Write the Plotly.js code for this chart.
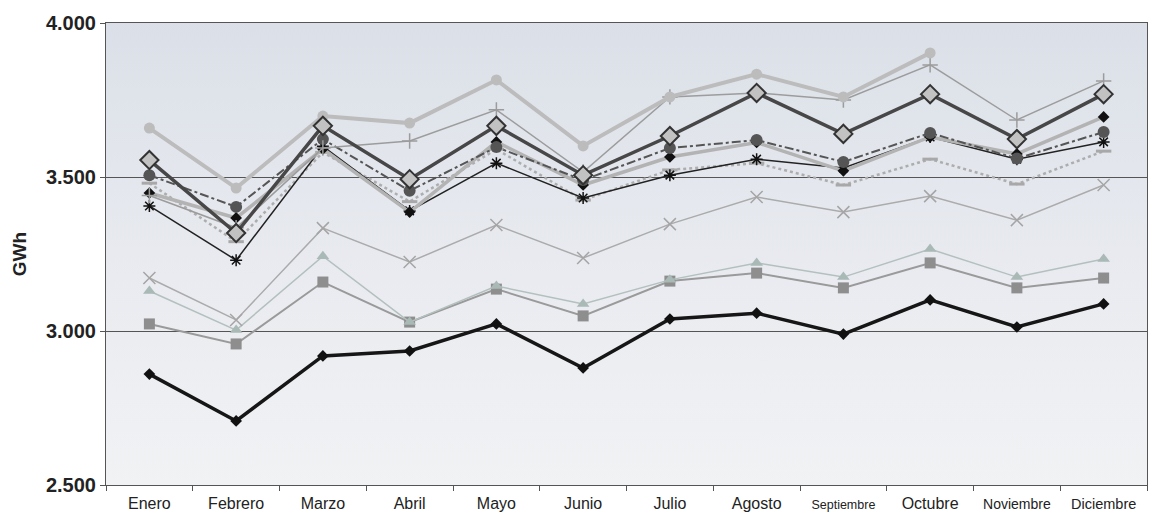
<!DOCTYPE html>
<html>
<head>
<meta charset="utf-8">
<script src="https://cdn.plot.ly/plotly-3.0.1.min.js"></script>
<style>
html,body{margin:0;padding:0;background:#fff;}
#chart{width:1152px;height:516px;}
</style>
</head>
<body>
<div id="chart"></div>
<script>
// Categories (months)
const months = ["Enero","Febrero","Marzo","Abril","Mayo","Junio","Julio","Agosto","Septiembre","Octubre","Noviembre","Diciembre"];

// Series values (GWh)
const serieA = [3659, 3464, 3698, 3675, 3815, 3601, 3760, 3834, 3760, 3903, null, null];
const serieB = [3440, 3335, 3594, 3617, 3718, 3516, 3760, 3773, 3750, 3864, 3685, 3812];
const serieC = [3555, 3318, 3666, 3493, 3666, 3506, 3633, 3773, 3640, 3769, 3623, 3769];
const serieD = [3506, 3403, 3623, 3455, 3597, 3490, 3594, 3620, 3549, 3643, 3560, 3646];
const serieE = [3448, 3367, 3591, 3386, 3614, 3474, 3565, 3612, 3520, 3630, 3575, 3695];
const serieF = [3406, 3230, 3600, 3390, 3545, 3432, 3506, 3558, 3529, 3630, 3558, 3614];
const serieG = [3480, 3290, 3580, 3420, 3590, 3425, 3523, 3545, 3474, 3558, 3477, 3584];
const serieH = [3172, 3036, 3334, 3224, 3344, 3237, 3347, 3435, 3386, 3438, 3360, 3474];
const serieI = [3130, 3003, 3243, 3029, 3146, 3088, 3166, 3221, 3175, 3266, 3175, 3234];
const serieJ = [3023, 2958, 3159, 3029, 3136, 3049, 3162, 3188, 3140, 3221, 3140, 3172];
const serieK = [2860, 2708, 2919, 2935, 3023, 2880, 3039, 3058, 2990, 3101, 3013, 3088];

// Y tick values
const yTicks = [2500, 3000, 3500, 4000];
const yTickLabels = ["2.500", "3.000", "3.500", "4.000"];

function tr(name, y, line, marker) {
  return {type: "scatter", mode: "lines+markers", name: name, x: months, y: y,
          line: line, marker: marker, connectgaps: false, hoverinfo: "x+y"};
}

const traces = [
  tr("Serie K", serieK, {color: "#161616", width: 3.5}, {symbol: "diamond", size: 9, color: "#111"}),
  tr("Serie J", serieJ, {color: "#9a9a9a", width: 2}, {symbol: "square", size: 11, color: "#8e8e8e"}),
  tr("Serie I", serieI, {color: "#b3c0bd", width: 1.5}, {symbol: "triangle-up", size: 11, color: "#a9b9b5"}),
  tr("Serie H", serieH, {color: "#ababab", width: 1.5}, {symbol: "x-thin-open", size: 12, color: "#a5a5a5", line: {width: 1.5, color: "#a5a5a5"}}),
  tr("Serie G", serieG, {color: "#adadad", width: 2.5, dash: "dot"}, {symbol: "line-ew-open", size: 11, color: "#a8a8a8", line: {width: 3, color: "#a8a8a8"}}),
  tr("Serie F", serieF, {color: "#222", width: 1.5}, {symbol: "asterisk-open", size: 10, color: "#111", line: {width: 1.5, color: "#111"}}),
  tr("Serie E", serieE, {color: "#b3b3b3", width: 3.5}, {symbol: "diamond", size: 9, color: "#111"}),
  tr("Serie D", serieD, {color: "#555", width: 2, dash: "dashdot"}, {symbol: "circle", size: 12, color: "#555"}),
  tr("Serie B", serieB, {color: "#9c9c9c", width: 1.5}, {symbol: "cross-thin-open", size: 11, color: "#9c9c9c", line: {width: 1.5, color: "#9c9c9c"}}),
  tr("Serie A", serieA, {color: "#bcbcbc", width: 4}, {symbol: "circle", size: 11, color: "#bcbcbc"}),
  tr("Serie C", serieC, {color: "#474747", width: 3.5}, {symbol: "diamond", size: 14, color: "#c2c2c2", line: {width: 2, color: "#333"}})
];

// Long month names are drawn narrower, as in the reference
const tickSizes = {"Septiembre": 12.5, "Noviembre": 14, "Diciembre": 14.5};
const monthTickText = months.map(m => tickSizes[m] ? '<span style="font-size:' + tickSizes[m] + 'px">' + m + '</span>' : m);

const grad = "data:image/svg+xml;charset=utf-8," + encodeURIComponent(
  '<svg xmlns="http://www.w3.org/2000/svg" width="100" height="100" preserveAspectRatio="none">' +
  '<defs><linearGradient id="g" x1="0" y1="0" x2="0" y2="1">' +
  '<stop offset="0" stop-color="#dbe0e8"/><stop offset="0.55" stop-color="#e9ebf0"/><stop offset="1" stop-color="#f1f2f4"/>' +
  '</linearGradient></defs><rect width="100" height="100" fill="url(#g)"/></svg>');

const layout = {
  width: 1152, height: 516,
  margin: {l: 106, r: 5, t: 23, b: 31},
  paper_bgcolor: "#ffffff",
  plot_bgcolor: "#e6e9ee",
  showlegend: false,
  font: {family: "Liberation Sans, Arial, sans-serif", color: "#222"},
  images: [{source: grad, xref: "paper", yref: "paper", x: 0, y: 1, sizex: 1, sizey: 1,
            sizing: "stretch", layer: "below", xanchor: "left", yanchor: "top"}],
  xaxis: {
    type: "category", range: [-0.5, 11.5],
    tickmode: "array", tickvals: months, ticktext: monthTickText,
    tickangle: 0, ticklabelstandoff: 4,
    showgrid: false, zeroline: false,
    showline: true, linecolor: "#555", linewidth: 1, mirror: true,
    ticks: "outside", tickson: "boundaries", ticklen: 5, tickcolor: "#555",
    tickfont: {family: "Liberation Sans, Arial, sans-serif", size: 16, color: "#222"}
  },
  yaxis: {
    range: [2500, 4000],
    tickvals: yTicks, ticktext: yTickLabels,
    showgrid: true, gridcolor: "#555", gridwidth: 1,
    zeroline: false,
    showline: true, linecolor: "#555", linewidth: 1, mirror: true,
    ticks: "outside", ticklen: 5, tickcolor: "#555",
    tickfont: {family: "Liberation Sans, Arial, sans-serif", size: 20, color: "#222", weight: "bold"},
    title: {text: "<b>GWh</b>", font: {family: "Liberation Sans, Arial, sans-serif", size: 19, color: "#222"}, standoff: 14}
  }
};

Plotly.newPlot("chart", traces, layout, {displayModeBar: false, staticPlot: true});
</script>
</body>
</html>
